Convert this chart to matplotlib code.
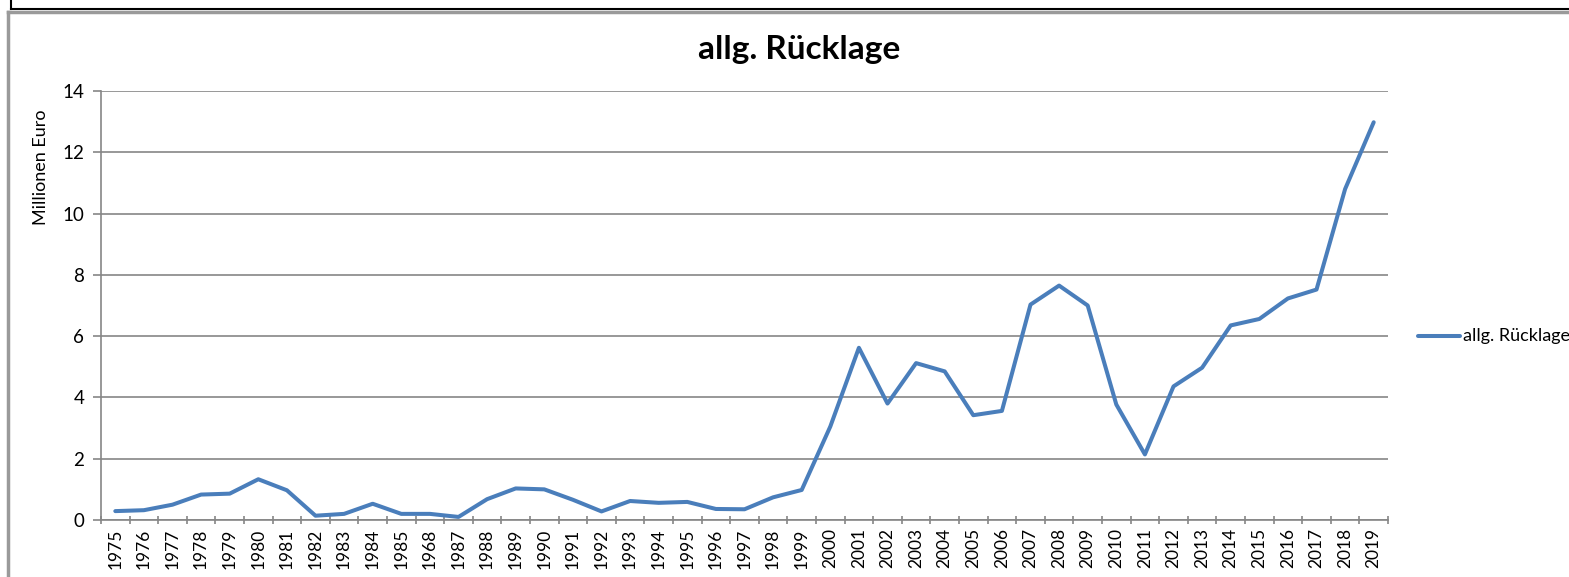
import matplotlib
matplotlib.use('Agg')
import matplotlib.pyplot as plt
from matplotlib.lines import Line2D
import numpy as np

plt.rcParams['font.family'] = ['Lato', 'DejaVu Sans']

# Jahre (so wie im Original beschriftet, inkl. "1968")
jahre = ['1975', '1976', '1977', '1978', '1979', '1980', '1981', '1982', '1983', '1984',
         '1985', '1968', '1987', '1988', '1989', '1990', '1991', '1992', '1993', '1994',
         '1995', '1996', '1997', '1998', '1999', '2000', '2001', '2002', '2003', '2004',
         '2005', '2006', '2007', '2008', '2009', '2010', '2011', '2012', '2013', '2014',
         '2015', '2016', '2017', '2018', '2019']

# allg. Ruecklage in Millionen Euro
ruecklage = [0.29, 0.32, 0.50, 0.83, 0.86, 1.33, 0.97, 0.14, 0.20, 0.53,
             0.20, 0.20, 0.10, 0.68, 1.03, 1.00, 0.66, 0.28, 0.62, 0.56,
             0.59, 0.36, 0.35, 0.74, 0.98, 3.05, 5.62, 3.80, 5.12, 4.85,
             3.42, 3.56, 7.03, 7.65, 7.00, 3.77, 2.14, 4.36, 4.97, 6.35,
             6.56, 7.23, 7.52, 10.80, 12.98]

W, H = 1569, 577
fig = plt.figure(figsize=(W / 100, H / 100), dpi=100)

# Rahmen oben (abgeschnittene Titelzeile) und Diagrammrahmen
fig.add_artist(Line2D([11 / W, 1], [1 - 9 / H, 1 - 9 / H], color='black', lw=1.5))
fig.add_artist(Line2D([11 / W, 11 / W], [1, 1 - 9 / H], color='black', lw=1.5))
fig.add_artist(Line2D([8 / W, 1], [1 - 12 / H, 1 - 12 / H], color='#9a9a9a', lw=2.5))
fig.add_artist(Line2D([8 / W, 8 / W], [0, 1 - 12 / H], color='#9a9a9a', lw=2.5))

ax = fig.add_axes([101 / W, 1 - 520 / H, 1287 / W, 429 / H])
x = np.arange(len(jahre))
ax.plot(x, ruecklage, color='#4A7EBB', lw=2.9, solid_capstyle='round',
        solid_joinstyle='round', zorder=3)

ax.set_xlim(-0.5, len(jahre) - 0.5)
ax.set_ylim(0, 14)
ax.set_yticks(range(0, 15, 2))
ax.yaxis.grid(True, color='#868686', lw=1.2)
ax.set_axisbelow(True)

# Teilstriche zwischen den Kategorien, Beschriftung in der Mitte
ax.set_xticks(np.arange(-0.5, len(jahre), 1.0))
ax.set_xticklabels([])
ax.set_xticks(x, minor=True)
ax.set_xticklabels(jahre, minor=True, rotation=90, fontsize=12.5)
ax.tick_params(axis='x', which='minor', length=0, pad=6)
ax.tick_params(axis='x', which='major', length=6, width=1.2, color='#868686',
               direction='inout')
ax.tick_params(axis='y', length=6, width=1.2, color='#868686', labelsize=13.5, pad=6)

for s in ['top', 'right']:
    ax.spines[s].set_visible(False)
for s in ['left', 'bottom']:
    ax.spines[s].set_color('#868686')
    ax.spines[s].set_linewidth(1.2)

# Achsentitel sitzt oben, wie im Original
ax.set_ylabel('Millionen Euro', fontsize=13)
ax.yaxis.set_label_coords((49 - 101) / 1287, (520 - 167) / 429)
fig.text(0.5095, 1 - 50 / H, 'allg. Rücklage', ha='center', va='center',
         fontsize=24, fontweight='bold')

# Legende
fig.add_artist(Line2D([1418 / W, 1460 / W], [1 - 336 / H, 1 - 336 / H],
                      color='#4A7EBB', lw=2.9, solid_capstyle='round'))
fig.text(1463 / W, 1 - 336 / H, 'allg. Rücklage', ha='left', va='center', fontsize=13)

fig.savefig('out.png', dpi=100)
